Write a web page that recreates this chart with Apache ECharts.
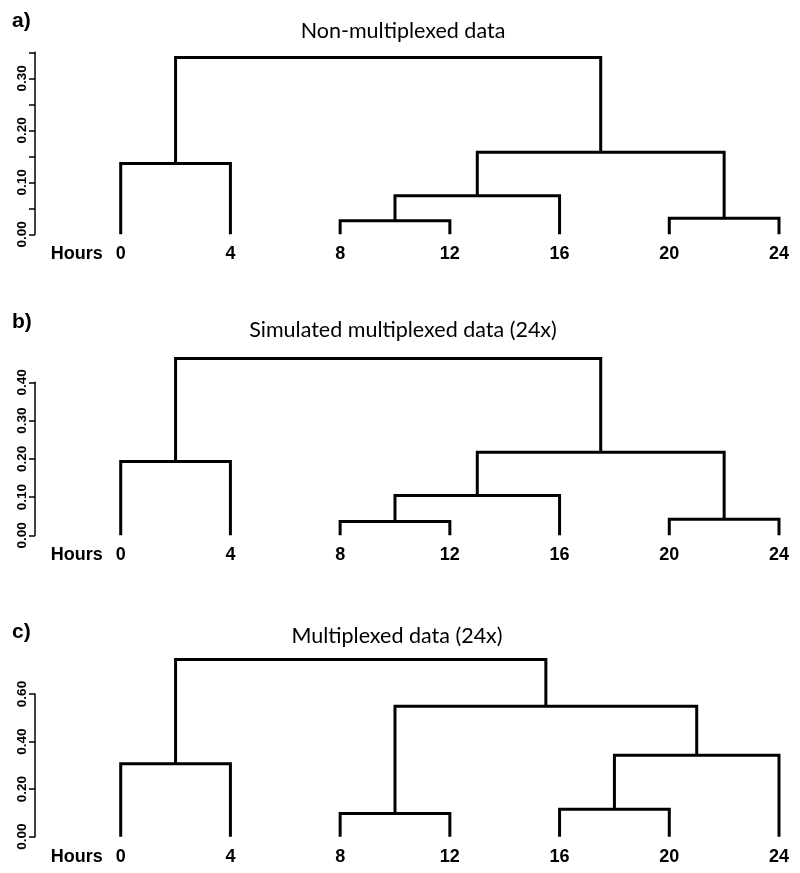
<!DOCTYPE html>
<html>
<head>
<meta charset="utf-8">
<script src="https://cdn.jsdelivr.net/npm/echarts@6/dist/echarts.min.js"></script>
<style>
html,body{margin:0;padding:0;background:#fff;}
#chart{width:800px;height:873px;}
</style>
</head>
<body>
<div id="chart"></div>
<script>
// Leaf labels (hours), in dendrogram order
const hours = [0, 4, 8, 12, 16, 20, 24];

// Merge structure (R hclust style: negative = leaf index (1-based), positive = earlier merge row)
const mergeA = [[-3, -4], [-6, -7], [1, -5], [-1, -2], [3, 2], [4, 5]];
const heightA = [0.026, 0.031, 0.074, 0.136, 0.158, 0.340];

const mergeB = [[-3, -4], [-6, -7], [1, -5], [-1, -2], [3, 2], [4, 5]];
const heightB = [0.036, 0.042, 0.104, 0.193, 0.217, 0.462];

const mergeC = [[-3, -4], [-5, -6], [2, -7], [-1, -2], [1, 3], [4, 5]];
const heightC = [0.098, 0.115, 0.342, 0.307, 0.548, 0.745];

// Titles and axis ranges
const titles = ['Non-multiplexed data', 'Simulated multiplexed data (24x)', 'Multiplexed data (24x)'];
const panelTags = ['a)', 'b)', 'c)'];
const yMax = [0.35, 0.40, 0.60];
const yStep = [0.05, 0.10, 0.20];

// Layout (pixels)
const gridTop = [52.3, 382.3, 694];
const gridHeight = [182, 153, 142.7];
const titleY = [31, 330, 636];
const titleX = [403, 403, 397];
const tagY = [21, 322, 632];

function buildSegments(merge, height) {
  const pos = []; // [x, h] for each merge row
  const segs = [];
  function child(c) {
    if (c < 0) return [-c - 1, 0];
    return pos[c - 1];
  }
  merge.forEach((m, i) => {
    const a = child(m[0]), b = child(m[1]);
    const h = height[i];
    segs.push([[a[0], a[1]], [a[0], h], [b[0], h], [b[0], b[1]]]);
    pos.push([(a[0] + b[0]) / 2, h]);
  });
  return segs;
}

const panels = [[mergeA, heightA], [mergeB, heightB], [mergeC, heightC]];

const grid = [], xAxis = [], yAxis = [], series = [], graphic = [];
const labelFont = '"Liberation Sans", Arial, sans-serif';

panels.forEach((p, k) => {
  grid.push({left: 120.7, width: 658.3, top: gridTop[k], height: gridHeight[k], containLabel: false});
  xAxis.push({
    gridIndex: k, type: 'value', min: 0, max: hours.length - 1, interval: 1,
    axisLine: {show: false, onZero: false}, axisTick: {show: false}, splitLine: {show: false},
    axisLabel: {
      margin: 11, color: '#000', fontFamily: labelFont, fontWeight: 'bold', fontSize: 18,
      formatter: v => String(hours[Math.round(v)])
    },
    name: 'Hours', nameLocation: 'start', nameGap: 18,
    nameTextStyle: {color: '#000', fontFamily: labelFont, fontWeight: 'bold', fontSize: 18,
      verticalAlign: 'top', padding: [11, 0, 0, 0]}
  });
  yAxis.push({
    gridIndex: k, type: 'value', min: 0, max: yMax[k], interval: yStep[k], offset: 85.7,
    splitLine: {show: false},
    axisLine: {show: true, onZero: false, lineStyle: {color: '#000', width: 1.5}},
    axisTick: {show: true, length: 6, lineStyle: {color: '#000', width: 1.5}},
    axisLabel: {
      rotate: 90, margin: 6, color: '#000', fontFamily: labelFont, fontWeight: 'bold', fontSize: 13.5,
      formatter: v => (Math.round(v * 100) % 10 === 0 ? v.toFixed(2) : '')
    }
  });
  buildSegments(p[0], p[1]).forEach(seg => {
    series.push({
      type: 'line', xAxisIndex: k, yAxisIndex: k, data: seg, clip: false,
      symbol: 'none', silent: true, animation: false,
      lineStyle: {color: '#000', width: 3, join: 'miter', cap: 'butt'}
    });
  });
  graphic.push({type: 'text', x: titleX[k], y: titleY[k],
    style: {text: titles[k], align: 'center', verticalAlign: 'middle', fill: '#000',
      font: 'normal 21.5px Lato, "Open Sans", sans-serif'}});
  graphic.push({type: 'text', x: 12, y: tagY[k],
    style: {text: panelTags[k], align: 'left', verticalAlign: 'middle', fill: '#000',
      font: 'bold 21px ' + labelFont}});
});

const chart = echarts.init(document.getElementById('chart'), null, {renderer: 'canvas'});
chart.setOption({animation: false, backgroundColor: '#fff', grid, xAxis, yAxis, series, graphic});
</script>
</body>
</html>
